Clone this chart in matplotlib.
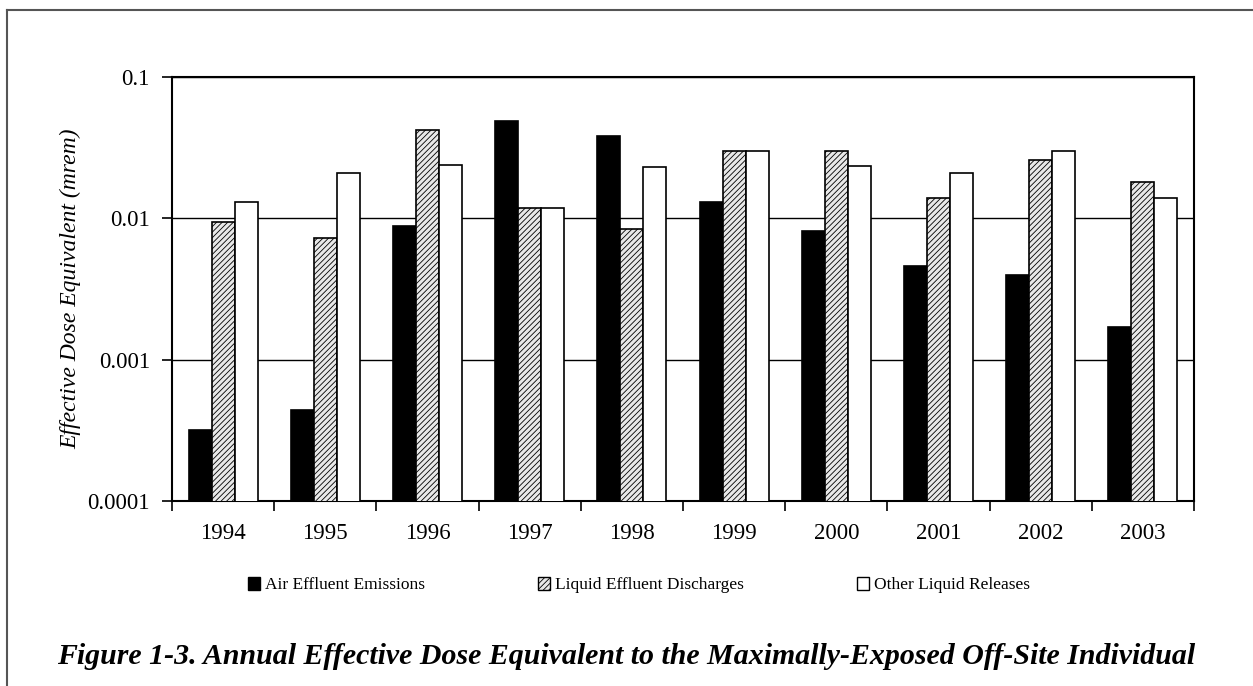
import matplotlib
matplotlib.use("Agg")
import matplotlib.pyplot as plt
import numpy as np
from matplotlib.patches import Patch
from matplotlib.lines import Line2D

#--DATA--#
years = ["1994", "1995", "1996", "1997", "1998", "1999", "2000", "2001", "2002", "2003"]
air = [0.00032, 0.00044, 0.0088, 0.049, 0.038, 0.0131, 0.0081, 0.0046, 0.0040, 0.0017]
liquid = [0.0094, 0.0072, 0.042, 0.0119, 0.0084, 0.030, 0.030, 0.0140, 0.026, 0.018]
other = [0.0131, 0.021, 0.024, 0.0119, 0.023, 0.030, 0.0234, 0.021, 0.030, 0.0140]
series_names = ["Air Effluent Emissions", "Liquid Effluent Discharges", "Other Liquid Releases"]
ytick_vals = [0.0001, 0.001, 0.01, 0.1]
ytick_labels = ["0.0001", "0.001", "0.01", "0.1"]
#----#

plt.rcParams['font.family'] = ['Liberation Serif', 'DejaVu Serif']
plt.rcParams['hatch.linewidth'] = 0.6

fig = plt.figure(figsize=(12.53, 6.86), dpi=100)
ax = fig.add_axes([172 / 1253, 1 - 501 / 686, (1194 - 172) / 1253, (501 - 77) / 686])

x = np.arange(len(years))
w = 0.225
ax.bar(x - w, air, w, color="black", edgecolor="black", linewidth=1.2, zorder=3)
ax.bar(x, liquid, w, color="#e8e8e8", edgecolor="black", hatch="//////", linewidth=1.2, zorder=3)
ax.bar(x + w, other, w, color="white", edgecolor="black", linewidth=1.2, zorder=3)

ax.set_yscale("log")
ax.set_ylim(0.0001, 0.1)
ax.set_xlim(-0.5, len(years) - 0.5)
ax.set_yticks(ytick_vals)
ax.set_yticklabels(ytick_labels)
ax.yaxis.set_minor_locator(matplotlib.ticker.NullLocator())
ax.grid(axis="y", which="major", color="black", linewidth=1.0, zorder=0)

# ticks between the groups, labels at the group centres
ax.set_xticks(np.arange(-0.5, len(years), 1.0))
ax.set_xticklabels([])
ax.set_xticks(x, minor=True)
ax.set_xticklabels(years, minor=True)
ax.tick_params(axis="x", which="major", direction="out", length=7, width=1.2)
ax.tick_params(axis="x", which="minor", length=0, pad=16, labelsize=16.5)
ax.tick_params(axis="y", direction="out", length=7, width=1.2, labelsize=16.5, pad=9)

for s in ax.spines.values():
    s.set_linewidth(1.5)

ax.set_ylabel("Effective Dose Equivalent (mrem)", fontsize=17, style="italic", labelpad=4)

handles = [
    Patch(facecolor="black", edgecolor="black"),
    Patch(facecolor="#e8e8e8", edgecolor="black", hatch="//////"),
    Patch(facecolor="white", edgecolor="black"),
]
fig.legend(handles, series_names, loc="center", bbox_to_anchor=(0.51, 1 - 585 / 686),
           ncol=3, frameon=False, fontsize=12.5, handlelength=0.7, handleheight=0.8,
           handletextpad=0.3, columnspacing=6.5)

fig.text(0.5, 1 - 656 / 686,
         "Figure 1-3. Annual Effective Dose Equivalent to the Maximally-Exposed Off-Site Individual",
         ha="center", va="center", fontsize=21.5, fontweight="bold", style="italic")

# outer page frame
fig.add_artist(Line2D([7 / 1253, 1.0], [1 - 10 / 686, 1 - 10 / 686], color="#555555", linewidth=1.5))
fig.add_artist(Line2D([7 / 1253, 7 / 1253], [0.0, 1 - 10 / 686], color="#555555", linewidth=1.5))

fig.savefig("out.png", dpi=100)
